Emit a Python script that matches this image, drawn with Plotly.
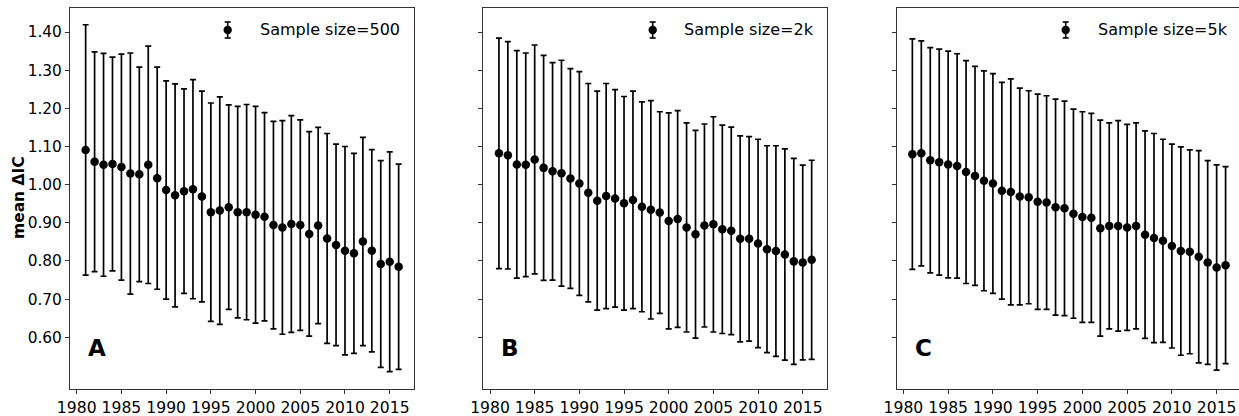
import plotly.graph_objects as go

# ---------------- data ----------------
years = [1981, 1982, 1983, 1984, 1985, 1986, 1987, 1988, 1989, 1990,
         1991, 1992, 1993, 1994, 1995, 1996, 1997, 1998, 1999, 2000,
         2001, 2002, 2003, 2004, 2005, 2006, 2007, 2008, 2009, 2010,
         2011, 2012, 2013, 2014, 2015, 2016]

mean_500 = [1.091, 1.060, 1.052, 1.054, 1.046, 1.029, 1.027, 1.052, 1.017, 0.986,
            0.972, 0.983, 0.988, 0.969, 0.928, 0.932, 0.941, 0.928, 0.928, 0.921,
            0.916, 0.894, 0.888, 0.897, 0.894, 0.871, 0.893, 0.859, 0.842, 0.827,
            0.820, 0.851, 0.827, 0.792, 0.798, 0.785]
err_500 = [0.328, 0.288, 0.292, 0.280, 0.296, 0.316, 0.281, 0.311, 0.291, 0.286,
           0.292, 0.268, 0.287, 0.276, 0.286, 0.298, 0.268, 0.277, 0.282, 0.284,
           0.273, 0.272, 0.280, 0.284, 0.276, 0.268, 0.257, 0.275, 0.264, 0.273,
           0.262, 0.273, 0.265, 0.271, 0.288, 0.269]

mean_2k = [1.082, 1.077, 1.053, 1.052, 1.066, 1.044, 1.035, 1.030, 1.016, 1.003,
           0.979, 0.958, 0.970, 0.964, 0.951, 0.960, 0.942, 0.934, 0.927, 0.905,
           0.910, 0.888, 0.870, 0.893, 0.896, 0.883, 0.879, 0.858, 0.858, 0.846,
           0.831, 0.826, 0.817, 0.799, 0.796, 0.803]
err_2k = [0.302, 0.298, 0.298, 0.293, 0.300, 0.295, 0.285, 0.296, 0.288, 0.293,
          0.286, 0.287, 0.295, 0.285, 0.280, 0.285, 0.275, 0.286, 0.264, 0.283,
          0.284, 0.274, 0.272, 0.266, 0.282, 0.273, 0.272, 0.270, 0.268, 0.273,
          0.271, 0.276, 0.277, 0.270, 0.255, 0.261]

mean_5k = [1.080, 1.082, 1.064, 1.059, 1.053, 1.049, 1.033, 1.023, 1.010, 1.003,
           0.984, 0.981, 0.969, 0.967, 0.955, 0.953, 0.941, 0.938, 0.924, 0.915,
           0.913, 0.886, 0.892, 0.892, 0.888, 0.892, 0.869, 0.860, 0.853, 0.839,
           0.826, 0.824, 0.811, 0.796, 0.783, 0.789]
err_5k = [0.302, 0.295, 0.295, 0.296, 0.297, 0.294, 0.292, 0.287, 0.288, 0.288,
          0.284, 0.296, 0.284, 0.279, 0.282, 0.280, 0.283, 0.281, 0.274, 0.276,
          0.274, 0.283, 0.270, 0.276, 0.270, 0.270, 0.272, 0.274, 0.266, 0.267,
          0.273, 0.267, 0.278, 0.267, 0.269, 0.258]

series_labels = ["Sample size=500", "Sample size=2k", "Sample size=5k"]
panel_letters = ["A", "B", "C"]
x_tick_vals = [1980, 1985, 1990, 1995, 2000, 2005, 2010, 2015]
y_tick_vals = [0.60, 0.70, 0.80, 0.90, 1.00, 1.10, 1.20, 1.30, 1.40]
y_title = "mean ΔIC"

# ---------------- layout helpers ----------------
W, H = 1239, 416
FONT = "DejaVu Sans"
AX = "#333333"


def px_x(p):
    return p / W


def px_y(p):
    return 1 - p / H


panels = [
    dict(mean=mean_500, err=err_500, dom=(70.0, 414.3), xr=(1979.25, 2017.75),
         mk=227.7, tx=257.7),
    dict(mean=mean_2k, err=err_2k, dom=(483.3, 827.3), xr=(1979.25, 2017.75),
         mk=652.7, tx=681.7),
    dict(mean=mean_5k, err=err_5k, dom=(896.7, 1239.0), xr=(1979.25, 2017.5),
         mk=1065.7, tx=1095.7),
]
y_dom = (px_y(389.3), px_y(8.3))
y_range = (0.4638, 1.4621)

fig = go.Figure()
shapes = []
annotations = []

for i, p in enumerate(panels):
    sfx = "" if i == 0 else str(i + 1)
    fig.add_trace(go.Scatter(
        x=years, y=p["mean"], mode="markers",
        name=series_labels[i], showlegend=False,
        xaxis="x" + sfx, yaxis="y" + sfx,
        marker=dict(color="black", size=8.5),
        error_y=dict(type="data", array=p["err"], visible=True,
                     color="black", thickness=1.7, width=3),
    ))
    xa = dict(domain=[px_x(p["dom"][0]), px_x(p["dom"][1])], range=list(p["xr"]),
              tickvals=x_tick_vals, ticks="outside", ticklen=4, tickwidth=1,
              tickcolor=AX, showline=True, linecolor=AX, linewidth=1, mirror=True,
              showgrid=False, zeroline=False, automargin=False,
              tickfont=dict(family=FONT, size=15.6, color="black"),
              anchor="y" + sfx)
    ya = dict(domain=list(y_dom), range=list(y_range), tickvals=y_tick_vals,
              tickformat=".2f", ticks="outside", ticklen=4, tickwidth=1,
              tickcolor=AX, showline=True, linecolor=AX, linewidth=1,
              mirror=(i < 2), showgrid=False, zeroline=False, automargin=False,
              showticklabels=(i == 0),
              tickfont=dict(family=FONT, size=15.4, color="black"),
              anchor="x" + sfx)
    fig.update_layout(**{"xaxis" + sfx: xa, "yaxis" + sfx: ya})

    # panel letter
    annotations.append(dict(
        text="<b>%s</b>" % panel_letters[i], xref="paper", yref="paper",
        x=px_x(p["dom"][0] + 16), y=px_y(348), xanchor="left", yanchor="middle",
        showarrow=False, font=dict(family=FONT, size=23, color="black")))

    # legend: marker with error bar + label
    my = 30.0
    mx = p["mk"]
    r = 4.2
    shapes.append(dict(type="circle", xref="paper", yref="paper",
                       x0=px_x(mx - r), x1=px_x(mx + r),
                       y0=px_y(my + r), y1=px_y(my - r),
                       fillcolor="black", line=dict(color="black", width=0)))
    shapes.append(dict(type="line", xref="paper", yref="paper",
                       x0=px_x(mx), x1=px_x(mx), y0=px_y(my + 8), y1=px_y(my - 8),
                       line=dict(color="black", width=1.6)))
    for dy in (-8, 8):
        shapes.append(dict(type="line", xref="paper", yref="paper",
                           x0=px_x(mx - 3), x1=px_x(mx + 3),
                           y0=px_y(my + dy), y1=px_y(my + dy),
                           line=dict(color="black", width=1.6)))
    annotations.append(dict(
        text=series_labels[i], xref="paper", yref="paper",
        x=px_x(p["tx"]), y=px_y(my), xanchor="left", yanchor="middle",
        showarrow=False, font=dict(family=FONT, size=16, color="black")))

annotations.append(dict(
    text="<b>%s</b>" % y_title, xref="paper", yref="paper",
    x=px_x(19), y=px_y(198), xanchor="center", yanchor="middle", textangle=-90,
    showarrow=False, font=dict(family=FONT, size=15.5, color="black")))

fig.update_layout(
    width=W, height=H, autosize=False,
    margin=dict(l=0, r=0, t=0, b=0, pad=0, autoexpand=False),
    paper_bgcolor="white", plot_bgcolor="white",
    font=dict(family=FONT, color="black"),
    shapes=shapes, annotations=annotations,
    showlegend=False,
)

fig.write_html(
    "out.html",
    config={"responsive": False, "displayModeBar": False},
    post_script="document.body.style.margin='0';document.body.style.overflow='hidden';",
)
